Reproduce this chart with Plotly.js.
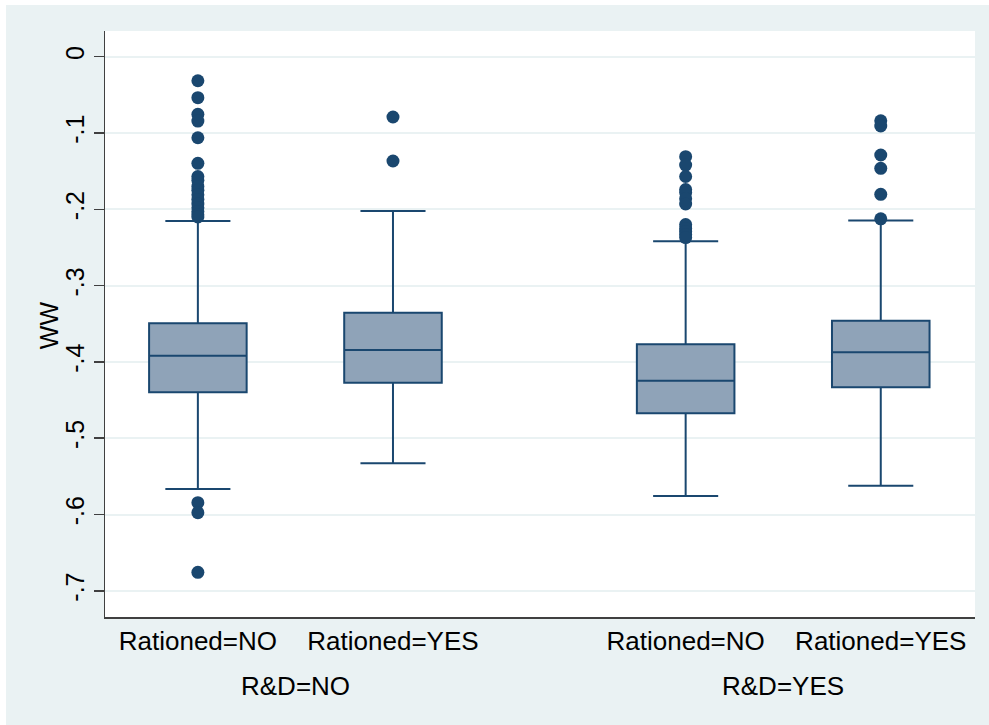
<!DOCTYPE html>
<html>
<head>
<meta charset="utf-8">
<script src="https://cdn.plot.ly/plotly-3.0.1.min.js"></script>
<style>
  html, body { margin: 0; padding: 0; background: #ffffff; width: 989px; height: 725px; overflow: hidden; }
  #chart { position: absolute; left: 6px; top: 5px; width: 983px; height: 720px; }
</style>
</head>
<body>
<div id="chart"></div>
<script>
// Categories (inner: Rationed, outer: R&D)
const rationedLabels = ["Rationed=NO", "Rationed=YES", "Rationed=NO", "Rationed=YES"];
const rdGroups = ["R&D=NO", "R&D=YES"];
const boxPositions = [1, 2, 3.5, 4.5];
const groupCenters = [1.5, 4];
const yTitle = "WW";

// Box statistics for WW
const q1Values = [-0.4399, -0.4273, -0.4674, -0.4333];
const medianValues = [-0.3919, -0.3844, -0.4246, -0.3874];
const q3Values = [-0.3494, -0.3355, -0.3770, -0.3460];
const lowerWhisker = [-0.5666, -0.5329, -0.5758, -0.5622];
const upperWhisker = [-0.2153, -0.2022, -0.2420, -0.2145];

// Outside values
const outliersNoNo = [-0.0315, -0.0537, -0.0755, -0.0843, -0.1062, -0.1397, -0.157, -0.162, -0.170, -0.175,
                      -0.181, -0.187, -0.193, -0.198, -0.203, -0.207, -0.210, -0.5845, -0.5976, -0.6757];
const outliersNoYes = [-0.0790, -0.1367];
const outliersYesNo = [-0.131, -0.142, -0.157, -0.174, -0.178, -0.186, -0.193, -0.220, -0.225, -0.229, -0.233, -0.237];
const outliersYesYes = [-0.0839, -0.0908, -0.1288, -0.1463, -0.1804, -0.2125];

// Y ticks
const yTickVals = [0, -0.1, -0.2, -0.3, -0.4, -0.5, -0.6, -0.7];
const yTickText = ["0", "-.1", "-.2", "-.3", "-.4", "-.5", "-.6", "-.7"];

const navy = "#1A476F";
const boxFill = "#8FA3B8";
const bg = "#EAF2F3";
const font = "Liberation Sans, Arial, sans-serif";

const outlierSets = [outliersNoNo, outliersNoYes, outliersYesNo, outliersYesYes];
const outX = [], outY = [];
outlierSets.forEach((set, i) => set.forEach(v => { outX.push(boxPositions[i]); outY.push(v); }));

const traces = [
  {
    type: "box",
    x: boxPositions,
    q1: q1Values,
    median: medianValues,
    q3: q3Values,
    lowerfence: lowerWhisker,
    upperfence: upperWhisker,
    width: 0.5,
    whiskerwidth: 0.667,
    boxpoints: false,
    fillcolor: boxFill,
    line: { color: navy, width: 2 },
    hoverinfo: "skip",
    showlegend: false
  },
  {
    type: "scatter",
    mode: "markers",
    x: outX,
    y: outY,
    marker: { color: navy, size: 13, line: { width: 0 } },
    hoverinfo: "skip",
    showlegend: false
  }
];

const annotations = rdGroups.map((g, i) => ({
  x: groupCenters[i], xref: "x",
  y: -0.118, yref: "paper",
  text: g, showarrow: false,
  xanchor: "center", yanchor: "middle",
  font: { family: font, size: 26, color: "#000000" }
}));
annotations.push({
  x: -0.0644, xref: "paper",
  y: 0.498, yref: "paper",
  text: yTitle, showarrow: false, textangle: -90,
  xanchor: "center", yanchor: "middle",
  font: { family: font, size: 25, color: "#000000" }
});

const layout = {
  width: 983,
  height: 720,
  paper_bgcolor: bg,
  plot_bgcolor: "#ffffff",
  margin: { l: 99, r: 14, t: 26, b: 108, pad: 0 },
  showlegend: false,
  font: { family: font, size: 25, color: "#000000" },
  xaxis: {
    range: [0.524, 4.983],
    tickmode: "array",
    tickvals: boxPositions,
    ticktext: rationedLabels,
    ticks: "",
    showgrid: false,
    zeroline: false,
    showline: true,
    linecolor: "#404040",
    linewidth: 1.5,
    tickfont: { family: font, size: 26, color: "#000000" },
    automargin: false
  },
  yaxis: {
    range: [-0.7343, 0.0337],
    tickmode: "array",
    tickvals: yTickVals,
    ticktext: yTickText,
    tickangle: -90,
    ticks: "outside",
    ticklen: 10,
    tickwidth: 1.5,
    tickcolor: "#404040",
    showgrid: true,
    gridcolor: bg,
    gridwidth: 2,
    zeroline: false,
    showline: true,
    linecolor: "#404040",
    linewidth: 1.5,
    tickfont: { family: font, size: 25, color: "#000000" },
    automargin: false
  },
  annotations: annotations
};

Plotly.newPlot("chart", traces, layout, { displayModeBar: false, staticPlot: true });
</script>
</body>
</html>
